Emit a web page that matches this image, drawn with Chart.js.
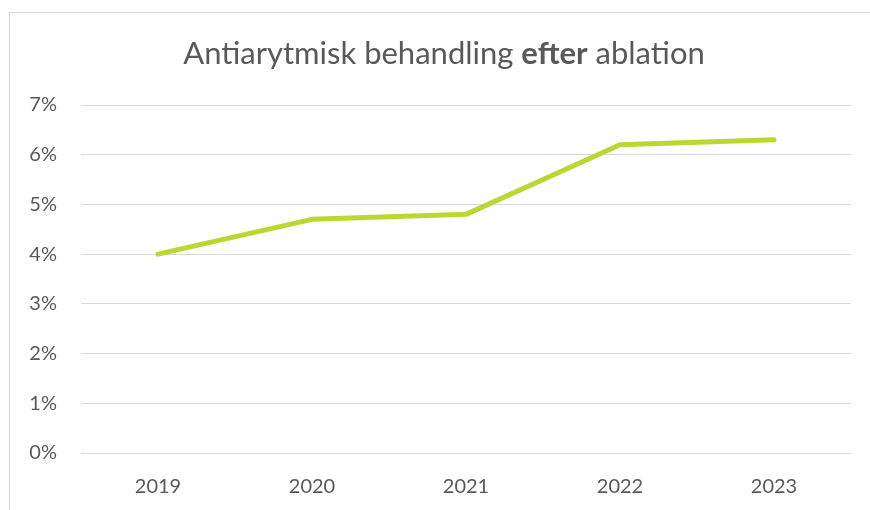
<!DOCTYPE html>
<html>
<head>
<meta charset="utf-8">
<script src="https://cdn.jsdelivr.net/npm/chart.js@4"></script>
<style>
  html, body { margin: 0; padding: 0; background: #fff; }
  #wrap { width: 870px; height: 510px; position: relative; }
</style>
</head>
<body>
<div id="wrap"><canvas id="lineChart"></canvas></div>
<script>
const years = ['2019', '2020', '2021', '2022', '2023'];
const shares = [4.0, 4.7, 4.8, 6.2, 6.3];
const yTicks = [0, 1, 2, 3, 4, 5, 6, 7];
const titleParts = [
  { text: 'Antiarytmisk behandling ', bold: false },
  { text: 'efter', bold: true },
  { text: ' ablation', bold: false }
];

const FONT = "'Source Sans Pro', Lato, 'Open Sans', sans-serif";
const GREY = '#595959';

// frame around the whole chart + the mixed-weight title
const decorations = {
  id: 'decorations',
  beforeDraw(chart) {
    const ctx = chart.ctx;
    ctx.save();
    ctx.strokeStyle = '#d9d9d9';
    ctx.lineWidth = 1;
    ctx.strokeRect(9.5, 12.5, 900, 600);
    ctx.restore();
  },
  afterDraw(chart) {
    const ctx = chart.ctx;
    ctx.save();
    const size = 31;
    let total = 0;
    const widths = titleParts.map(p => {
      ctx.font = (p.bold ? 'bold ' : '') + size + 'px ' + FONT;
      const w = ctx.measureText(p.text).width;
      total += w;
      return w;
    });
    let x = 444 - total / 2;
    ctx.fillStyle = GREY;
    ctx.textBaseline = 'alphabetic';
    titleParts.forEach((p, i) => {
      ctx.font = (p.bold ? 'bold ' : '') + size + 'px ' + FONT;
      ctx.fillText(p.text, x, 64);
      x += widths[i];
    });
    ctx.restore();
  }
};

new Chart(document.getElementById('lineChart'), {
  type: 'line',
  data: {
    labels: years,
    datasets: [{
      data: shares,
      borderColor: '#bdd631',
      borderWidth: 5,
      borderCapStyle: 'round',
      borderJoinStyle: 'round',
      pointRadius: 0,
      tension: 0,
      fill: false
    }]
  },
  options: {
    responsive: true,
    maintainAspectRatio: false,
    animation: false,
    layout: { padding: { top: 105, right: 19, bottom: 0, left: 0 } },
    plugins: {
      legend: { display: false },
      title: { display: false },
      tooltip: { enabled: false }
    },
    scales: {
      x: {
        offset: true,
        afterFit(axis) { axis.height = 57; },
        grid: { display: false, drawTicks: false },
        border: { display: false },
        ticks: { color: GREY, font: { family: FONT, size: 20 }, padding: 22 }
      },
      y: {
        min: 0,
        max: 7,
        afterBuildTicks(axis) { axis.ticks = yTicks.map(v => ({ value: v })); },
        afterFit(axis) { axis.width = 81; },
        grid: { color: '#d9d9d9', lineWidth: 1, drawTicks: false },
        border: { display: false },
        ticks: {
          color: GREY,
          font: { family: FONT, size: 20 },
          padding: 24,
          callback: v => v + '%'
        }
      }
    }
  },
  plugins: [decorations]
});
</script>
</body>
</html>
